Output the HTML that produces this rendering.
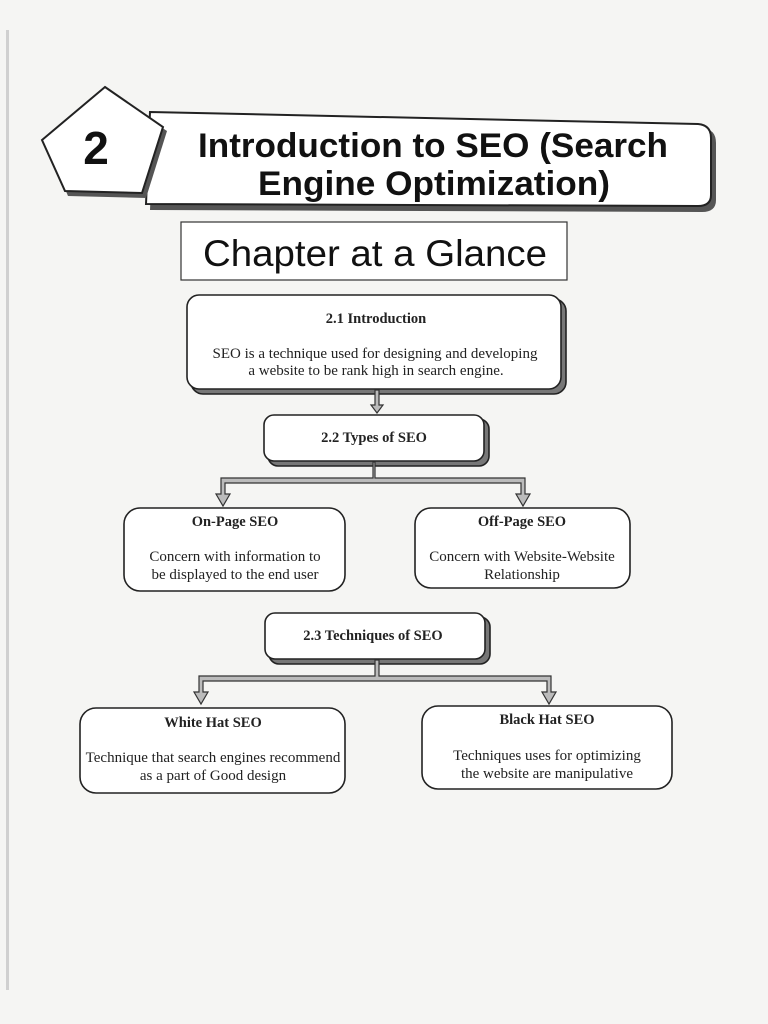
<!DOCTYPE html>
<html><head><meta charset="utf-8"><style>
body{margin:0;background:#f5f5f3;}
svg{display:block}
.s{font-family:"Liberation Serif",serif;font-size:15px;fill:#222;text-anchor:middle}
.b{font-weight:bold;font-size:14.5px}
</style></head><body>
<svg width="768" height="1024" viewBox="0 0 768 1024">
<rect width="768" height="1024" fill="#f5f5f3"/>
<rect x="6" y="30" width="3" height="960" fill="#d0d0d0"/>
<!-- banner -->
<path d="M154,117 L702,128 Q716,129 716,143 L716,200 Q716,212 702,212 L150,210 Z" fill="#555"/>
<path d="M150,112 L698,124 Q711,125 711,138 L711,195 Q711,206 698,206 L146,204 Z" fill="#fff" stroke="#222" stroke-width="2"/>
<polygon points="108,92 167,131 146,198 68,196 46,144" fill="#555"/>
<polygon points="105,87 163,127 142,193 65,191 42,140" fill="#fff" stroke="#222" stroke-width="2"/>
<text x="96" y="164" font-family="Liberation Sans,sans-serif" font-weight="bold" font-size="46" text-anchor="middle" fill="#111">2</text>
<text x="198" y="157" font-family="Liberation Sans,sans-serif" font-weight="bold" font-size="34" textLength="470" lengthAdjust="spacingAndGlyphs" fill="#111">Introduction to SEO (Search</text>
<text x="258" y="195" font-family="Liberation Sans,sans-serif" font-weight="bold" font-size="34" textLength="352" lengthAdjust="spacingAndGlyphs" fill="#111">Engine Optimization)</text>
<!-- chapter -->
<rect x="181" y="222" width="386" height="58" fill="#fff" stroke="#333" stroke-width="1.2"/>
<text x="203" y="266" font-family="Liberation Sans,sans-serif" font-size="37" textLength="344" lengthAdjust="spacingAndGlyphs" fill="#111">Chapter at a Glance</text>
<g stroke="#222" stroke-width="1.6">
<rect x="191" y="299" width="375" height="95" rx="12" fill="#777"/>
<rect x="187" y="295" width="374" height="94" rx="12" fill="#fff"/>
<rect x="268" y="419" width="221" height="47" rx="10" fill="#777"/>
<rect x="264" y="415" width="220" height="46" rx="10" fill="#fff"/>
<rect x="124" y="508" width="221" height="83" rx="16" fill="#fff"/>
<rect x="415" y="508" width="215" height="80" rx="16" fill="#fff"/>
<rect x="269" y="617" width="221" height="47" rx="10" fill="#777"/>
<rect x="265" y="613" width="220" height="46" rx="10" fill="#fff"/>
<rect x="80" y="708" width="265" height="85" rx="16" fill="#fff"/>
<rect x="422" y="706" width="250" height="83" rx="16" fill="#fff"/>
</g>
<!-- connectors -->
<g stroke="#333" stroke-width="1.2" fill="#bbb">
<path d="M375,390 v15 h-4 l6,8 l6,-8 h-4 v-15 z"/>
<path d="M373,462 v16 h-152 v16 h-5 l7,12 l7,-12 h-5 v-11 h296 v11 h-5 l7,12 l7,-12 h-5 v-16 h-150 v-16 z"/>
<path d="M375,660 v16 h-176 v16 h-5 l7,12 l7,-12 h-5 v-11 h344 v11 h-5 l7,12 l7,-12 h-5 v-16 h-172 v-16 z"/>
</g>
<text class="s b" x="376" y="323">2.1  Introduction</text>
<text class="s" x="375" y="358">SEO is a technique used for designing and developing</text>
<text class="s" x="376" y="375">a website to be rank high in search engine.</text>
<text class="s b" x="374" y="442">2.2  Types of SEO</text>
<text class="s b" x="235" y="526">On-Page SEO</text>
<text class="s" x="235" y="561">Concern with information to</text>
<text class="s" x="235" y="579">be displayed to the end user</text>
<text class="s b" x="522" y="526">Off-Page SEO</text>
<text class="s" x="522" y="561">Concern with Website-Website</text>
<text class="s" x="522" y="579">Relationship</text>
<text class="s b" x="373" y="640">2.3  Techniques of SEO</text>
<text class="s b" x="213" y="727">White Hat SEO</text>
<text class="s" x="213" y="762">Technique that search engines recommend</text>
<text class="s" x="213" y="780">as a part of Good design</text>
<text class="s b" x="547" y="724">Black Hat SEO</text>
<text class="s" x="547" y="760">Techniques uses for optimizing</text>
<text class="s" x="547" y="778">the website are manipulative</text>
</svg>
</body></html>
